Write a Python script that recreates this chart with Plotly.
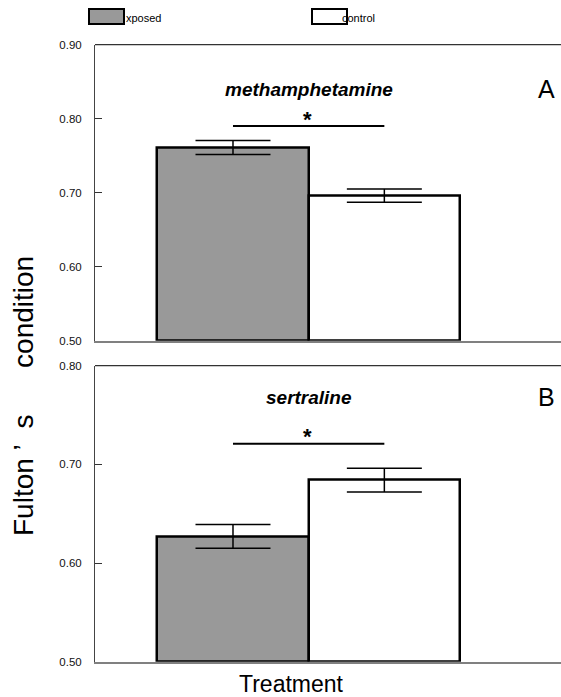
import plotly.graph_objects as go

# ---- data ----
groups = ["Exposed", "control"]
group_x = [0, 1]
panel_names = ["methamphetamine", "sertraline"]
panel_letters = ["A", "B"]
meth_means = [0.761, 0.696]
meth_errs = [0.0095, 0.009]
sert_means = [0.627, 0.684]
sert_errs = [0.012, 0.012]
sig_levels = [0.790, 0.721]
yticks_A = [0.50, 0.60, 0.70, 0.80, 0.90]
yticks_B = [0.50, 0.60, 0.70, 0.80]
bar_colors = ["#999999", "#ffffff"]

W, H = 561, 697
L = 95
FONT = "Liberation Sans, Arial, sans-serif"


def px(xp):
    return (xp - L) / (W - L)


def py(yp):
    return 1 - yp / H


fig = go.Figure()

for i, (means, errs) in enumerate([(meth_means, meth_errs), (sert_means, sert_errs)]):
    xa = "x" if i == 0 else "x2"
    ya = "y" if i == 0 else "y2"
    fig.add_trace(go.Bar(
        x=group_x, y=[m - 0.5 for m in means], base=0.5, width=1.0,
        marker=dict(color=bar_colors, line=dict(color="black", width=2.5)),
        error_y=dict(type="data", array=errs, color="black", thickness=1.5, width=37.5),
        xaxis=xa, yaxis=ya, showlegend=False, cliponaxis=False,
        hoverinfo="skip",
    ))

xrange = [-0.9116, 2.167]
common_x = dict(range=xrange, showticklabels=False, ticks="", showgrid=False,
                zeroline=False, showline=True, linecolor="#808080", linewidth=2,
                layer="below traces", fixedrange=True, automargin=False)
common_y = dict(ticks="inside", ticklen=7, tickcolor="#333", tickwidth=1,
                showgrid=False, zeroline=False, showline=True, linecolor="#444",
                linewidth=1, tickfont=dict(family=FONT, size=11.5, color="#111"),
                ticklabelstandoff=10, layer="below traces", automargin=False)

fig.update_layout(
    xaxis=dict(domain=[0, 1], anchor="y", **common_x),
    yaxis=dict(domain=[py(340.7), py(44.7)], anchor="x", range=[0.5, 0.9],
               tickvals=yticks_A, ticktext=[f"{v:.2f}" for v in yticks_A], **common_y),
    xaxis2=dict(domain=[0, 1], anchor="y2", **common_x),
    yaxis2=dict(domain=[py(661.7), py(365.7)], anchor="x2", range=[0.5, 0.8],
                tickvals=yticks_B, ticktext=[f"{v:.2f}" for v in yticks_B], **common_y),
    width=W, height=H,
    margin=dict(l=L, r=0, t=0, b=0, pad=0, autoexpand=False),
    paper_bgcolor="white", plot_bgcolor="white",
    bargap=0,
)

shapes = []
annotations = []
title_y = [0.850, 0.894]
for i in range(2):
    xa = "x" if i == 0 else "x2"
    ya = "y" if i == 0 else "y2"
    # top frame line
    shapes.append(dict(type="line", xref=f"{xa} domain", yref=f"{ya} domain",
                       x0=0, x1=1, y0=1, y1=1, line=dict(color="#333", width=1.2)))
    # significance line
    shapes.append(dict(type="line", xref=xa, yref=ya, x0=group_x[0], x1=group_x[1],
                       y0=sig_levels[i], y1=sig_levels[i], line=dict(color="black", width=2)))
    annotations.append(dict(text="<b>*</b>", xref=xa, yref=ya, x=0.49, y=sig_levels[i],
                            xanchor="center", yanchor="middle", yshift=7, showarrow=False,
                            font=dict(family=FONT, size=22, color="black")))
    annotations.append(dict(text=f"<b><i>{panel_names[i]}</i></b>", xref=xa, yref=f"{ya} domain",
                            x=0.5, y=title_y[i], xanchor="center", yanchor="middle",
                            showarrow=False, font=dict(family=FONT, size=19, color="black")))
    annotations.append(dict(text=panel_letters[i], xref="paper", yref=f"{ya} domain",
                            x=px(546), y=title_y[i], xanchor="center", yanchor="middle",
                            showarrow=False, font=dict(family=FONT, size=25, color="black")))

# legend
shapes.append(dict(type="rect", xref="paper", yref="paper", x0=px(89), x1=px(124),
                   y0=py(24), y1=py(9), fillcolor=bar_colors[0], line=dict(color="black", width=2)))
shapes.append(dict(type="rect", xref="paper", yref="paper", x0=px(312), x1=px(347),
                   y0=py(24), y1=py(9), fillcolor=bar_colors[1], line=dict(color="black", width=2)))
annotations.append(dict(text="xposed", xref="paper", yref="paper", x=px(124), y=py(18.5),
                        xanchor="left", yanchor="middle", showarrow=False,
                        font=dict(family=FONT, size=11, color="black")))
annotations.append(dict(text="control", xref="paper", yref="paper", x=px(340), y=py(18.5),
                        xanchor="left", yanchor="middle", showarrow=False,
                        font=dict(family=FONT, size=11, color="black")))

# axis titles
annotations.append(dict(text="Fulton’\u00a0’\u00a0\u00a0s\u00a0\u00a0\u00a0\u00a0\u00a0\u00a0condition".replace("’\u00a0’", "\u00a0’"),
                        xref="paper", yref="paper", x=px(23), y=py(396), textangle=-90,
                        xanchor="center", yanchor="middle",
                        showarrow=False, font=dict(family=FONT, size=28, color="black")))
annotations.append(dict(text="Treatment", xref="paper", yref="paper", x=px(291.5), y=py(684),
                        xanchor="center", yanchor="middle",
                        showarrow=False, font=dict(family=FONT, size=23, color="black")))

fig.update_layout(shapes=shapes, annotations=annotations)
fig.write_html("out.html")
